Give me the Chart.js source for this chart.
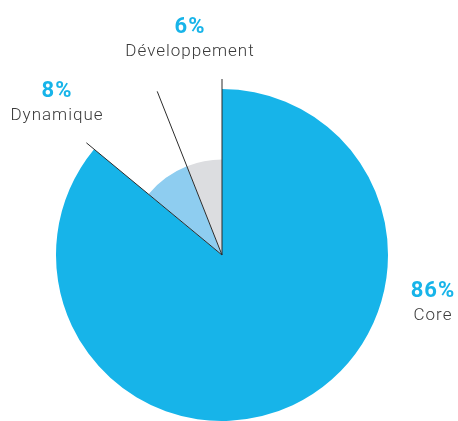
<!DOCTYPE html>
<html>
<head>
<meta charset="utf-8">
<script src="https://cdn.jsdelivr.net/npm/chart.js@4/dist/chart.umd.min.js"></script>
<style>
  html, body { margin: 0; padding: 0; background: #fff; }
  #wrap { position: relative; width: 458px; height: 421px; }
</style>
</head>
<body>
<div id="wrap"><canvas id="repartition"></canvas></div>
<script>
// Répartition du portefeuille
var categories = ["Core", "Dynamique", "Développement"];
var valeurs = [86, 8, 6];

// couleurs et rayon relatif de chaque part (Core pleine taille)
var couleurs = ["#17b4e9", "#8ecdf0", "#dcdde0"];
var rayons = [1, 0.575, 0.575];

// position des étiquettes (x centre, ligne de base du %)
var etiquettes = [
    { x: 433, y: 297 },
    { x: 57, y: 97 },
    { x: 190, y: 33 }
];

// Agrandit / réduit chaque part selon "rayons"
var rayonParPart = {
    id: "rayonParPart",
    afterDatasetUpdate: function(chart, args) {
        var meta = chart.getDatasetMeta(args.index);
        meta.data.forEach(function(arc, i) {
            arc.outerRadius = chart.getDatasetMeta(0).controller.outerRadius * rayons[i];
        });
    }
};

// Traits de séparation prolongés au-delà du disque + étiquettes
var traitsEtLabels = {
    id: "traitsEtLabels",
    afterDatasetsDraw: function(chart) {
        var ctx = chart.ctx;
        var meta = chart.getDatasetMeta(0);
        var r = meta.controller.outerRadius + 10;
        ctx.save();
        ctx.strokeStyle = "#2b2b2b";
        ctx.lineWidth = 1;
        meta.data.forEach(function(arc) {
            ctx.beginPath();
            ctx.moveTo(arc.x, arc.y);
            ctx.lineTo(arc.x + r * Math.cos(arc.startAngle), arc.y + r * Math.sin(arc.startAngle));
            ctx.stroke();
        });

        ctx.textAlign = "center";
        ctx.textBaseline = "alphabetic";
        ctx.letterSpacing = "1px";
        categories.forEach(function(nom, i) {
            var pos = etiquettes[i];
            ctx.fillStyle = couleurs[0];
            ctx.font = "bold 22px Roboto";
            ctx.fillText(valeurs[i] + "%", pos.x, pos.y);
            ctx.fillStyle = "#3a3a3a";
            ctx.font = "300 17px Roboto";
            ctx.fillText(nom, pos.x, pos.y + 23);
        });
        ctx.restore();
    }
};

new Chart(document.getElementById("repartition"), {
    type: "pie",
    data: {
        labels: categories,
        datasets: [{
            data: valeurs,
            backgroundColor: couleurs,
            borderWidth: 0
        }]
    },
    options: {
        responsive: true,
        maintainAspectRatio: false,
        animation: false,
        layout: { padding: { left: 56, right: 70, top: 89, bottom: 0 } },
        plugins: {
            legend: { display: false },
            tooltip: { enabled: false }
        }
    },
    plugins: [rayonParPart, traitsEtLabels]
});
</script>
</body>
</html>
